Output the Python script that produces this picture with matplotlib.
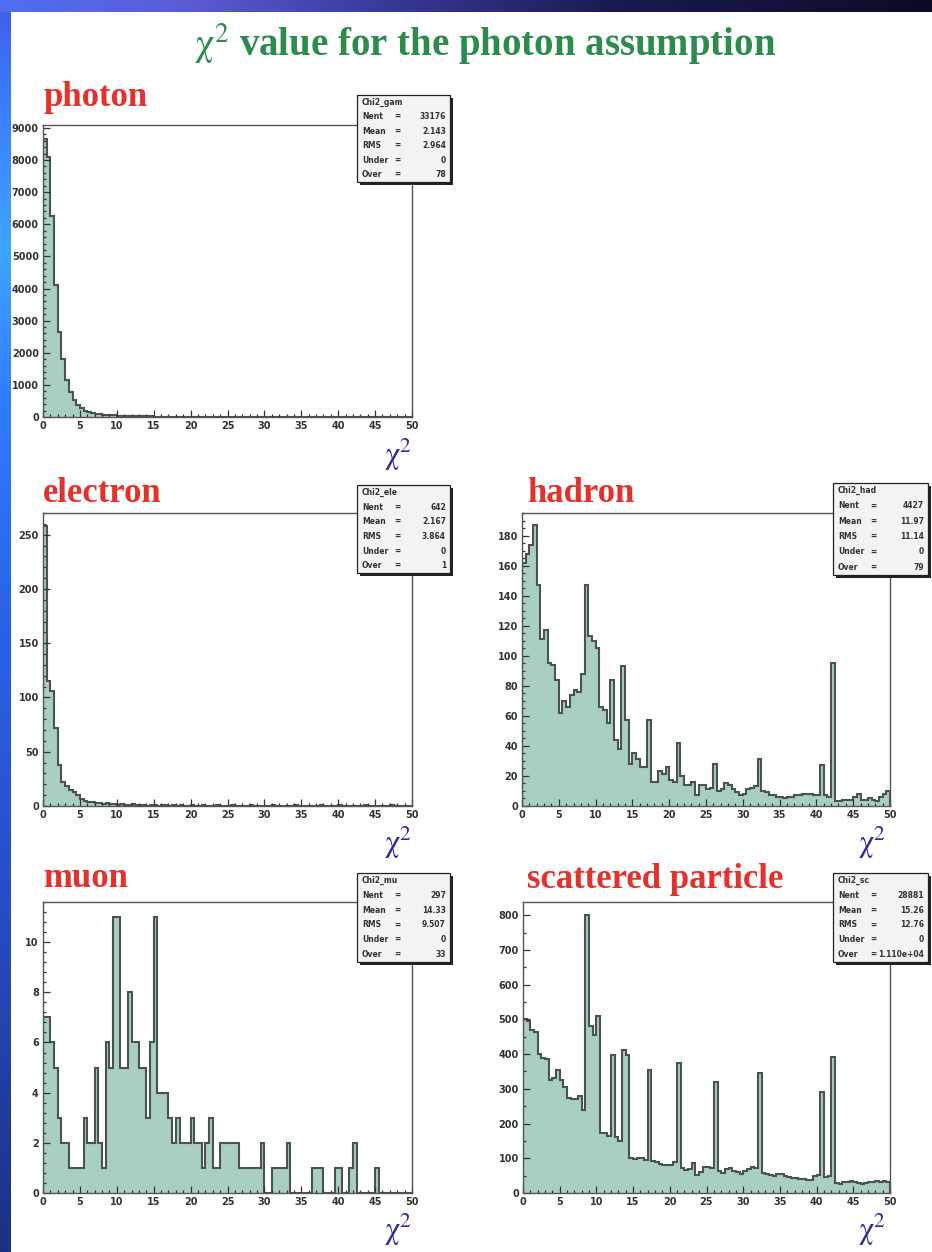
import numpy as np
import matplotlib.pyplot as plt
from matplotlib.patches import Rectangle
from matplotlib.ticker import MultipleLocator
from matplotlib.colors import to_rgb

plt.rcParams['mathtext.fontset'] = 'stix'

W, H = 932, 1252

# chi2 histograms, 100 bins from 0 to 50
edges = np.linspace(0, 50, 101)

photon = [8650, 8100, 6250, 4100, 2650, 1800, 1150, 780, 520, 370,
          270, 200, 160, 125, 100, 85, 72, 62, 54, 47,
          42, 37, 33, 30, 27, 24, 22, 20, 18, 17,
          15, 14, 13, 12, 11, 10, 9, 9, 8, 8,
          7, 7, 6, 6, 6, 5, 5, 5, 4, 4,
          4, 4, 4, 3, 3, 3, 3, 3, 3, 2,
          2, 2, 2, 2, 2, 2, 2, 2, 2, 2,
          1, 2, 1, 1, 2, 1, 1, 1, 1, 1,
          1, 1, 1, 1, 1, 1, 1, 0, 1, 1,
          1, 0, 1, 1, 0, 1, 1, 0, 1, 1]

electron = [258, 115, 106, 72, 38, 22, 18, 15, 13, 10,
            6, 5, 4, 4, 3, 3, 2, 3, 2, 2,
            1, 2, 1, 1, 2, 1, 1, 1, 0, 1,
            1, 0, 1, 1, 0, 1, 0, 1, 0, 0,
            1, 0, 0, 1, 0, 0, 0, 1, 0, 0,
            0, 1, 0, 0, 0, 0, 1, 0, 0, 0,
            0, 0, 1, 0, 0, 0, 0, 0, 1, 0,
            0, 0, 0, 0, 0, 1, 0, 0, 0, 0,
            1, 0, 0, 0, 0, 0, 0, 1, 0, 0,
            0, 0, 0, 0, 1, 0, 0, 0, 0, 0]

hadron = [162, 168, 174, 187, 147, 111, 117, 95, 94, 84,
          62, 70, 66, 74, 77, 76, 88, 147, 113, 110,
          105, 66, 64, 55, 84, 44, 38, 93, 57, 28,
          35, 31, 26, 26, 57, 16, 16, 23, 21, 26,
          17, 16, 42, 20, 14, 14, 16, 7, 14, 14,
          11, 12, 28, 10, 11, 15, 14, 11, 9, 7,
          8, 11, 12, 13, 31, 10, 9, 7, 7, 6,
          6, 5, 6, 6, 7, 7, 8, 8, 8, 7,
          7, 27, 7, 6, 95, 3, 3, 4, 4, 4,
          6, 8, 4, 4, 5, 4, 3, 6, 8, 10]

muon = [7, 7, 6, 5, 3, 2, 2, 1, 1, 1,
        1, 3, 2, 2, 5, 2, 1, 6, 5, 11,
        11, 5, 5, 8, 6, 6, 5, 5, 3, 6,
        11, 4, 4, 4, 3, 2, 3, 2, 2, 2,
        3, 2, 2, 1, 2, 3, 1, 1, 2, 2,
        2, 2, 2, 1, 1, 1, 1, 1, 1, 2,
        0, 0, 1, 1, 1, 1, 2, 0, 0, 0,
        0, 0, 0, 1, 1, 1, 0, 0, 0, 1,
        1, 0, 0, 1, 2, 0, 0, 0, 0, 0,
        1, 0, 0, 0, 0, 0, 0, 0, 0, 0]

scattered = [500, 495, 470, 465, 400, 390, 385, 325, 330, 355,
             325, 305, 275, 272, 272, 278, 240, 800, 480, 455,
             510, 172, 172, 165, 398, 162, 150, 412, 398, 100,
             98, 102, 102, 95, 353, 92, 88, 84, 80, 80,
             82, 90, 374, 72, 66, 68, 86, 52, 60, 75,
             75, 72, 321, 62, 58, 70, 72, 64, 60, 56,
             62, 68, 74, 72, 345, 58, 55, 52, 50, 55,
             56, 50, 46, 44, 42, 41, 40, 38, 36, 48,
             52, 292, 47, 50, 391, 28, 27, 32, 33, 34,
             33, 28, 26, 30, 31, 33, 34, 32, 34, 33]

stats_photon = ['Chi2_gam', ('Nent', '33176'), ('Mean', '2.143'), ('RMS', '2.964'), ('Under', '0'), ('Over', '78')]
stats_electron = ['Chi2_ele', ('Nent', '642'), ('Mean', '2.167'), ('RMS', '3.864'), ('Under', '0'), ('Over', '1')]
stats_hadron = ['Chi2_had', ('Nent', '4427'), ('Mean', '11.97'), ('RMS', '11.14'), ('Under', '0'), ('Over', '79')]
stats_muon = ['Chi2_mu', ('Nent', '297'), ('Mean', '14.33'), ('RMS', '9.507'), ('Under', '0'), ('Over', '33')]
stats_scat = ['Chi2_sc', ('Nent', '28881'), ('Mean', '15.26'), ('RMS', '12.76'), ('Under', '0'), ('Over', '1.110e+04')]

fill_c = '#a9cec2'
line_c = '#4a5350'
red = '#e5312c'
blue = '#2d2d9e'
green = '#2e8b4e'
serif = ['Liberation Serif', 'DejaVu Serif']

fig = plt.figure(figsize=(W / 100, H / 100), dpi=100)
fig.patch.set_facecolor('white')


def fx(x):
    return x / W


def fy(y):
    return 1 - y / H


def panel(rect, vals, ymax, major, minor, name, name_pos, chi_pos, box, stats):
    l, t, r, b = rect
    ax = fig.add_axes([fx(l), fy(b), fx(r - l), (b - t) / H])
    ax.stairs(vals, edges, baseline=0, fill=True, color=fill_c, lw=0)
    ax.stairs(vals, edges, baseline=0, color=line_c, lw=1.5)
    ax.set_xlim(0, 50)
    ax.set_ylim(0, ymax)
    ax.xaxis.set_major_locator(MultipleLocator(5))
    ax.xaxis.set_minor_locator(MultipleLocator(1))
    ax.yaxis.set_major_locator(MultipleLocator(major))
    ax.yaxis.set_minor_locator(MultipleLocator(minor))
    ax.tick_params(which='both', direction='in', top=False, right=False,
                   color='#333333', width=0.9)
    ax.tick_params(which='major', length=5, labelsize=7, pad=3, labelcolor='#333333')
    ax.tick_params(which='minor', length=2.5)
    for lab in ax.get_xticklabels() + ax.get_yticklabels():
        lab.set_fontweight('bold')
    for sp in ax.spines.values():
        sp.set_color('#555555')
        sp.set_linewidth(1.0)

    fig.text(fx(name_pos[0]), fy(name_pos[1]), name, color=red, fontsize=25,
             fontweight='bold', family=serif, ha='left', va='baseline')
    fig.text(fx(chi_pos[0]), fy(chi_pos[1]), r'$\mathrm{\chi}^2$', color=blue, fontsize=22,
             ha='center', va='center')

    x0, y0, x1, y1 = box
    fig.patches.append(Rectangle((fx(x0 + 3), fy(y1 + 3)), fx(x1 - x0), (y1 - y0) / H,
                                 transform=fig.transFigure, facecolor='#222222',
                                 edgecolor='none', zorder=5))
    fig.patches.append(Rectangle((fx(x0), fy(y1)), fx(x1 - x0), (y1 - y0) / H,
                                 transform=fig.transFigure, facecolor='#f3f3f3',
                                 edgecolor='#222222', lw=0.9, zorder=6))
    step = (y1 - y0) / 6.0
    for k, item in enumerate(stats):
        yy = fy(y0 + step * (k + 0.5))
        if k == 0:
            fig.text(fx(x0 + 5), yy, item, fontsize=5.5, fontweight='bold',
                     color='#333333', va='center', ha='left', zorder=7)
        else:
            fig.text(fx(x0 + 5), yy, item[0], fontsize=5.5, fontweight='bold',
                     color='#333333', va='center', ha='left', zorder=7)
            fig.text(fx(x0 + 40), yy, '=', fontsize=5.5, fontweight='bold',
                     color='#333333', va='center', ha='center', zorder=7)
            fig.text(fx(x1 - 4), yy, item[1], fontsize=5.5, fontweight='bold',
                     color='#333333', va='center', ha='right', zorder=7)
    return ax


panel((43, 125, 412, 417), photon, 9090, 1000, 200, 'photon', (43, 106), (398, 455),
      (357, 95, 450, 182), stats_photon)
panel((43, 513, 412, 806), electron, 270, 50, 10, 'electron', (43, 502), (398, 843),
      (357, 485, 450, 573), stats_electron)
panel((522, 513, 890, 806), hadron, 195, 20, 5, 'hadron', (527, 502), (872, 843),
      (833, 483, 928, 575), stats_hadron)
panel((43, 902, 412, 1193), muon, 11.6, 2, 0.4, 'muon', (43, 887), (398, 1230),
      (357, 873, 450, 962), stats_muon)
panel((523, 902, 890, 1193), scattered, 838, 100, 50, 'scattered particle', (527, 888),
      (872, 1230), (833, 873, 928, 962), stats_scat)

fig.text(fx(485), fy(56), r'$\mathrm{\chi}^2$ value for the photon assumption', color=green,
         fontsize=28, fontweight='bold', family=serif, ha='center', va='baseline')


def gradient(stops, n):
    pos = [p for p, c in stops]
    cols = np.array([to_rgb(c) for p, c in stops])
    t = np.linspace(0, 1, n)
    return np.stack([np.interp(t, pos, cols[:, i]) for i in range(3)], axis=-1)


# slide background bands
left = fig.add_axes([0, 0, fx(11), 1], zorder=20)
lg = gradient([(0, '#3f5ee6'), (0.08, '#3a7cff'), (0.2, '#3fa4ff'), (0.32, '#2f7cff'),
               (0.5, '#2a62e6'), (0.7, '#2650cc'), (0.85, '#2240a8'), (1, '#1b2f82')], H)
left.imshow(lg[:, None, :], aspect='auto', extent=[0, 1, 0, 1])
left.axis('off')

top = fig.add_axes([0, fy(12), 1, 12 / H], zorder=21)
tg = gradient([(0, '#4f6ef2'), (0.2, '#5b5cd6'), (0.4, '#3b3b9e'), (0.65, '#1b1b52'),
               (1, '#0b0b26')], W)
top.imshow(tg[None, :, :], aspect='auto', extent=[0, 1, 0, 1])
top.axis('off')

fig.savefig('out.png', dpi=100)
